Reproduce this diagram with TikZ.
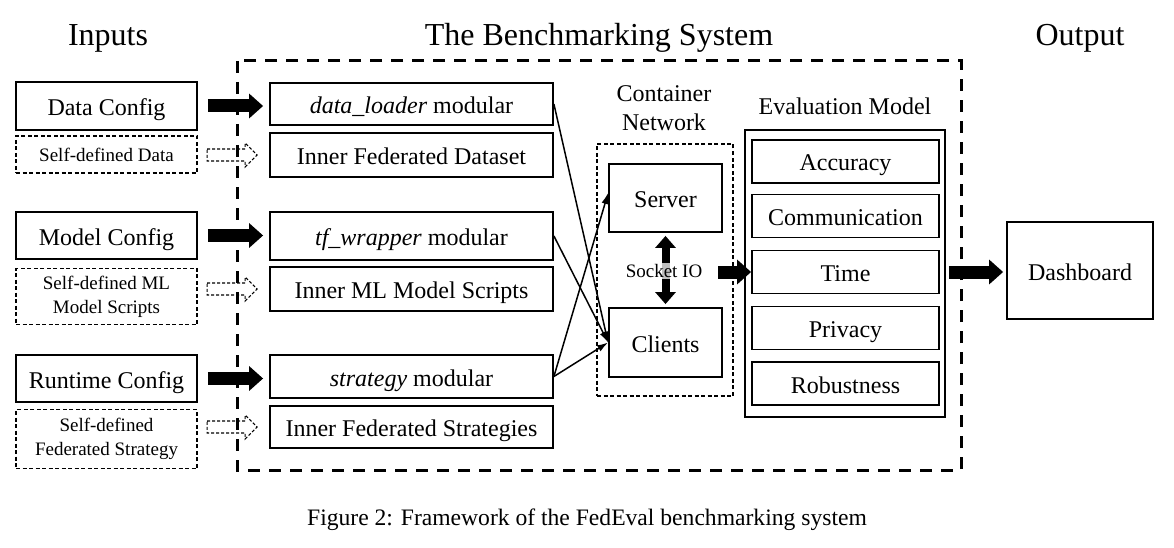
\documentclass[tikz,border=0pt]{standalone}
\usepackage{fontspec}
\setmainfont{Liberation Serif}
\usetikzlibrary{arrows.meta,calc}
\begin{document}
\begin{tikzpicture}[x=1pt,y=-1pt,
  every node/.style={inner sep=0pt, font=\fontsize{24}{29}\selectfont},
  sbox/.style={draw, line width=1.8pt, text height=19pt, text depth=0pt},
  dbox/.style={draw, line width=1.3pt, dash pattern=on 4pt off 2.5pt, align=center, font=\fontsize{19}{24}\selectfont},
  bigarrow/.style={line width=13pt, -{Triangle[length=14pt,width=24pt]}},
  hollow/.style={line width=1.2pt, dash pattern=on 3pt off 2pt, line join=miter},
  conn/.style={line width=1.5pt, -{Latex[length=11pt,width=7pt]}},
  title/.style={anchor=base, font=\fontsize{32}{38}\selectfont}
]
\useasboundingbox (0,0) rectangle (1174,548);

% titles
\node[title] (tin) at (108,46) {Inputs};
\node[title] (tsys) at (599,46) {The Benchmarking System};
\node[title] (tout) at (1080,46) {Output};

% outer dashed system box
\draw[line width=3pt, dash pattern=on 12pt off 9pt] (237,61) rectangle (961,470);

% left inputs
\node[sbox, minimum width=181pt, minimum height=48pt] (dc) at (106.5,106) {Data Config};
\node[dbox, minimum width=181pt, minimum height=37pt] (sd) at (106.5,154.5) {Self-defined Data};
\node[sbox, minimum width=181pt, minimum height=47pt] (mc) at (106.5,235.5) {Model Config};
\node[dbox, minimum width=181pt, minimum height=56pt] (sm) at (106.5,296.5) {Self-defined ML\\Model Scripts};
\node[sbox, minimum width=181pt, minimum height=47pt] (rc) at (106.5,378.5) {Runtime Config};
\node[dbox, minimum width=181pt, minimum height=59pt] (ss) at (106.5,439) {Self-defined\\Federated Strategy};

% middle modules
\node[sbox, minimum width=283pt, minimum height=42pt] (dl) at (411.5,104) {\textit{data\_loader} modular};
\node[sbox, minimum width=283pt, minimum height=44pt] (ifd) at (411.5,155) {Inner Federated Dataset};
\node[sbox, minimum width=283pt, minimum height=48pt] (tf) at (411.5,236) {\textit{tf\_wrapper} modular};
\node[sbox, minimum width=283pt, minimum height=44pt] (iml) at (411.5,289) {Inner ML Model Scripts};
\node[sbox, minimum width=283pt, minimum height=43pt] (st) at (411.5,376.5) {\textit{strategy} modular};
\node[sbox, minimum width=283pt, minimum height=42pt] (ifs) at (411.5,427) {Inner Federated Strategies};

% thick input arrows
\draw[bigarrow] ($(dc.east)+(10,0)$) -- ($(dl.west |- dc.east)+(-6,0)$);
\draw[bigarrow] ($(mc.east)+(10,0)$) -- ($(tf.west |- mc.east)+(-6,0)$);
\draw[bigarrow] ($(rc.east)+(10,0)$) -- ($(st.west |- rc.east)+(-6,0)$);

% hollow dashed arrows
\foreach \n in {ifd,iml,ifs}{
  \draw[hollow] ($(\n.west)+(-62,-6)$) -- ++(38,0) -- ++(0,-6) -- ++(12,12) -- ++(-12,12) -- ++(0,-6) -- ++(-38,0) -- cycle;
}

% container network
\node[align=center] (cnt) at (664,108.5) {Container\\Network};
\node[draw, line width=1.3pt, dash pattern=on 4pt off 2.5pt, minimum width=136pt, minimum height=252pt] (cn) at (665,270) {};
\node[sbox, minimum width=113pt, minimum height=68pt] (sv) at (665.5,198) {Server};
\node[sbox, minimum width=113pt, minimum height=69pt] (cl) at (665.5,342.5) {Clients};
\draw[line width=8pt, {Triangle[length=12pt,width=20pt]}-{Triangle[length=12pt,width=20pt]}] ($(sv.south)+(0,3)$) -- ($(cl.north)+(0,-3)$);
\node[fill=white, fill opacity=0.75, text opacity=1, inner sep=1pt, font=\fontsize{19}{23}\selectfont] (sio) at (664,271) {Socket IO};

% connectors
\draw[conn] (dl.east) -- (cl.west);
\draw[conn] (tf.east) -- (cl.west);
\draw[conn] (st.east) -- ($(sv.west)+(0,-5)$);
\draw[conn] (st.east) -- (cl.west);

% evaluation model
\node (evt) at (845,106) {Evaluation Model};
\node[draw, line width=1.8pt, minimum width=200pt, minimum height=287pt] (ev) at (845,273.5) {};
\node[sbox, minimum width=187pt, minimum height=43pt] (acc) at (845.5,161.5) {Accuracy};
\node[sbox, minimum width=187pt, minimum height=43pt] (com) at (845.5,216) {Communication};
\node[sbox, minimum width=187pt, minimum height=43pt] (tim) at (845.5,272) {Time};
\node[sbox, minimum width=187pt, minimum height=43pt] (pri) at (845.5,328) {Privacy};
\node[sbox, minimum width=187pt, minimum height=43pt] (rob) at (845.5,383.5) {Robustness};

\draw[bigarrow] ($(tim.west)+(-33,0)$) -- (tim.west);

% output
\node[sbox, minimum width=146pt, minimum height=97pt] (db) at (1080,270.5) {Dashboard};
\draw[bigarrow] ($(ev.east |- tim.east)+(3,0)$) -- ($(db.west |- tim.east)+(-3,0)$);

% caption
\node[anchor=base, font=\fontsize{23.6}{28}\selectfont] (cap) at (587,525) {Figure 2: Framework of the FedEval benchmarking system};
\end{tikzpicture}
\end{document}
